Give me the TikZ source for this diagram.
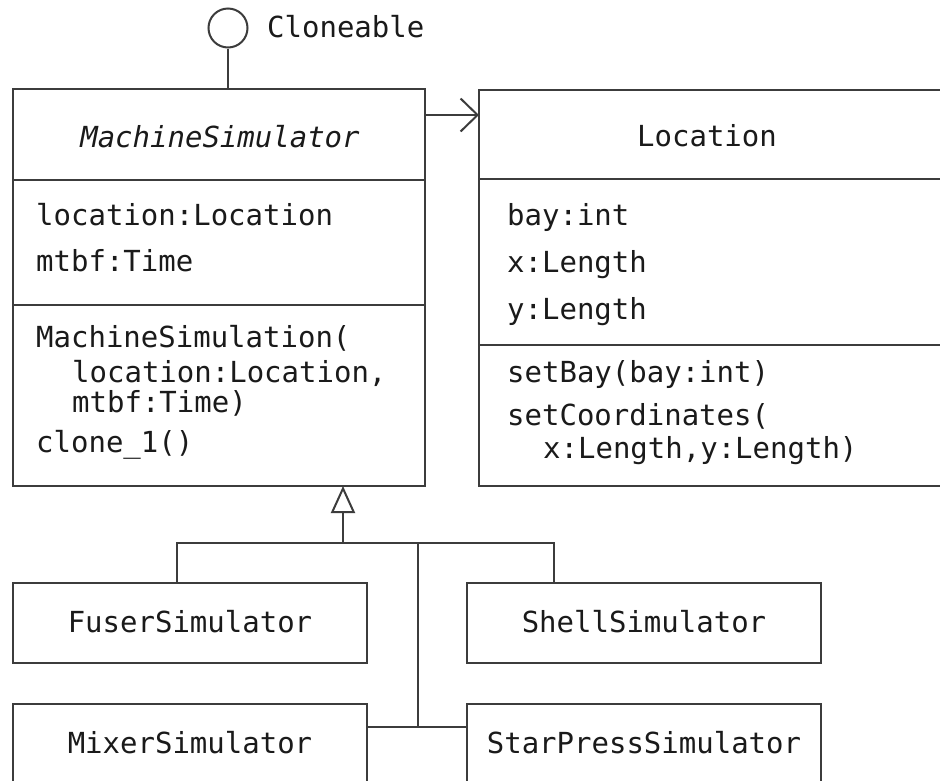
\documentclass[tikz,border=0pt]{standalone}
\usepackage{fontspec}
\setmonofont{DejaVu Sans Mono}
\usetikzlibrary{arrows.meta}
\definecolor{ln}{HTML}{3C3C3C}
\definecolor{tx}{HTML}{1A1A1A}
\tikzset{
  box/.style={draw=ln, line width=2pt, inner sep=0pt, outer sep=0pt, anchor=north west},
  txt/.style={inner sep=0pt, anchor=base west, text=tx, font=\ttfamily\fontsize{29}{34}\selectfont},
  ctxt/.style={txt, anchor=base},
  conn/.style={draw=ln, line width=2pt},
  thinconn/.style={draw=ln, line width=1.3pt},
  thickconn/.style={draw=ln, line width=2.8pt},
  assoc/.style={conn, -{Straight Barb[length=17pt, width=33pt, line width=2pt]}},
  gen/.style={conn, -{Triangle[open, length=27pt, width=24pt, line width=2pt, fill=white]}},
  divider/.style={draw=ln, line width=2pt},
}
\begin{document}
\begin{tikzpicture}[x=1pt, y=-1pt]
\useasboundingbox (0,0) rectangle (940,780);
\clip (0,0) rectangle (940,780);
\fill[white] (0,0) rectangle (940,780);

% Lollipop interface
\node[draw=ln, line width=2pt, circle, minimum size=39pt, inner sep=0pt] (clone) at (228,28) {};
\node[txt] (clonetxt) at (267,37) {Cloneable};

% MachineSimulator
\node[box, minimum width=412pt, minimum height=397pt] (ms) at (13,89) {};
\draw[divider] (13,180) -- (425,180);
\draw[divider] (13,305) -- (425,305);
\node[ctxt, font=\ttfamily\itshape\fontsize{29}{34}\selectfont] (msname) at (220,147) {MachineSimulator};
\node[txt] (ma1) at (36,225) {location:Location};
\node[txt] (ma2) at (36,271) {mtbf:Time};
\node[txt] (mm1) at (36,347) {MachineSimulation(};
\node[txt] (mm2) at (72,382) {location:Location,};
\node[txt] (mm3) at (72,412) {mtbf:Time)};
\node[txt] (mm4) at (36,452) {clone\_1()};

% Location
\node[box, minimum width=466pt, minimum height=396pt] (loc) at (479,90) {};
\draw[divider] (479,179) -- (945,179);
\draw[divider] (479,345) -- (945,345);
\node[ctxt] (locname) at (707,146) {Location};
\node[txt] (la1) at (507,225) {bay:int};
\node[txt] (la2) at (507,272) {x:Length};
\node[txt] (la3) at (507,319) {y:Length};
\node[txt] (lm1) at (507,382) {setBay(bay:int)};
\node[txt] (lm2) at (507,425) {setCoordinates(};
\node[txt] (lm3) at (543,458) {x:Length,y:Length)};

% Subclasses
\node[box, minimum width=354pt, minimum height=80pt] (fuser) at (13,583) {};
\node[ctxt] (fusertxt) at (190,632) {FuserSimulator};
\node[box, minimum width=354pt, minimum height=80pt] (shell) at (467,583) {};
\node[ctxt] (shelltxt) at (644,632) {ShellSimulator};
\node[box, minimum width=354pt, minimum height=100pt] (mixer) at (13,704) {};
\node[ctxt] (mixertxt) at (190,753) {MixerSimulator};
\node[box, minimum width=354pt, minimum height=100pt] (star) at (467,704) {};
\node[ctxt] (startxt) at (644,753) {StarPressSimulator};

% Connectors
\draw[conn] (clone.south) -- (clone |- ms.north);
\draw[assoc] ([yshift=-26pt]ms.north east) -- ([yshift=-25pt]loc.north west);

\coordinate (j) at (343,543);
\coordinate (fz) at (177,543);
\coordinate (sz) at (554,543);
\coordinate (t) at (418,543);
\coordinate (b) at (418,727);
\draw[conn] (fz |- fuser.north) -- (fz) -- (sz) -- (sz |- shell.north);
\draw[gen] (j) -- (j |- ms.south);
\draw[thinconn] (t) -- (b);
\draw[thickconn] (b -| mixer.east) -- (b -| star.west);
\end{tikzpicture}
\end{document}
